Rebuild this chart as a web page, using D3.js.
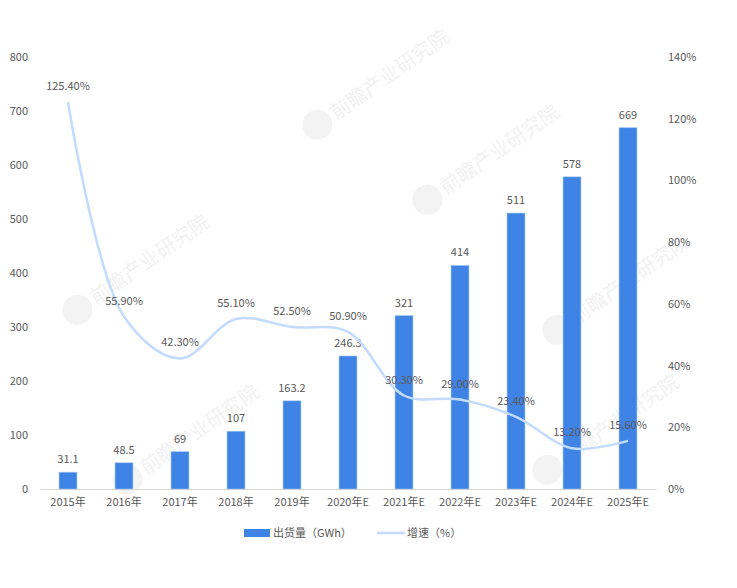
<!DOCTYPE html>
<html>
<head>
<meta charset="utf-8">
<script src="https://cdn.jsdelivr.net/npm/d3@7"></script>
<style>
  body { margin: 0; background: #fff; }
  text { font-family: "Noto Sans CJK SC", "Noto Sans", sans-serif; }
</style>
</head>
<body>
<svg id="chart"></svg>
<script>
const width = 737;
const height = 588;

const years = ["2015年", "2016年", "2017年", "2018年", "2019年", "2020年E", "2021年E", "2022年E", "2023年E", "2024年E", "2025年E"];
const shipments = [31.1, 48.5, 69, 107, 163.2, 246.3, 321, 414, 511, 578, 669];
const growth = [125.4, 55.9, 42.3, 55.1, 52.5, 50.9, 30.3, 29.0, 23.4, 13.2, 15.6];
const leftTicks = [0, 100, 200, 300, 400, 500, 600, 700, 800];
const rightTicks = [0, 20, 40, 60, 80, 100, 120, 140];

const margin = {top: 57, right: 81, bottom: 99, left: 40};
const textColor = "#595959";

const svg = d3.select("#chart")
              .attr("width", width)
              .attr("height", height);

// faint watermarks
const marks = [[360, 95], [470, 170], [120, 280], [600, 300], [170, 450], [590, 440]];
const wm = svg.append("g").attr("fill", "#f2f2f2");
marks.forEach(([x, y]) => {
    const g = wm.append("g").attr("transform", `translate(${x},${y}) rotate(-35)`);
    g.append("circle").attr("cx", -52).attr("cy", 0).attr("r", 15).attr("fill", "#f3f3f3");
    g.append("text").attr("x", -34).attr("y", 7).attr("font-size", 20).text("前瞻产业研究院");
});

const x = d3.scaleBand()
            .domain(years)
            .range([margin.left, width - margin.right])
            .paddingInner(0.68)
            .paddingOuter(0.34);

const y = d3.scaleLinear()
            .domain([0, 800])
            .range([height - margin.bottom, margin.top]);

const y2 = d3.scaleLinear()
             .domain([0, 140])
             .range([height - margin.bottom, margin.top]);

const yAxis = d3.axisLeft(y).tickValues(leftTicks).tickSize(0).tickPadding(12);
const y2Axis = d3.axisRight(y2).tickValues(rightTicks).tickSize(0).tickPadding(12).tickFormat(d => d + "%");
const xAxis = d3.axisBottom(x).tickSize(0).tickPadding(9);

svg.append("g")
   .attr("transform", `translate(${margin.left}, 0)`)
   .call(yAxis)
   .call(g => g.select(".domain").remove());

svg.append("g")
   .attr("transform", `translate(${width - margin.right}, 0)`)
   .call(y2Axis)
   .call(g => g.select(".domain").remove());

svg.append("g")
   .attr("transform", `translate(0, ${height - margin.bottom})`)
   .call(xAxis)
   .call(g => g.select(".domain").attr("stroke", "#d9d9d9"));

svg.selectAll(".tick text")
   .attr("fill", textColor)
   .attr("font-size", 11)
   .style("font-family", "'Noto Sans CJK SC', sans-serif");

svg.selectAll(".bar")
   .data(shipments)
   .enter()
   .append("rect")
   .attr("class", "bar")
   .attr("x", (d, i) => x(years[i]))
   .attr("y", d => y(d))
   .attr("width", x.bandwidth())
   .attr("height", d => y(0) - y(d))
   .attr("fill", "#3f84e5")
   .attr("stroke", "#9cc2f5")
   .attr("stroke-width", 0.6);

svg.selectAll(".bar-label")
   .data(shipments)
   .enter()
   .append("text")
   .attr("class", "bar-label")
   .attr("x", (d, i) => x(years[i]) + x.bandwidth() / 2)
   .attr("y", d => y(d) - 9)
   .attr("text-anchor", "middle")
   .attr("font-size", 11)
   .attr("fill", textColor)
   .text(d => d);

const line = d3.line()
               .x((d, i) => x(years[i]) + x.bandwidth() / 2)
               .y(d => y2(d))
               .curve(d3.curveCatmullRom.alpha(0.5));

svg.append("path")
   .datum(growth)
   .attr("d", line)
   .attr("fill", "none")
   .attr("stroke", "#c2dbff")
   .attr("stroke-width", 2.5);

svg.selectAll(".line-label")
   .data(growth)
   .enter()
   .append("text")
   .attr("class", "line-label")
   .attr("x", (d, i) => x(years[i]) + x.bandwidth() / 2)
   .attr("y", d => y2(d) - 12)
   .attr("text-anchor", "middle")
   .attr("font-size", 11)
   .attr("fill", textColor)
   .text(d => d.toFixed(2) + "%");

// legend
const legend = svg.append("g").attr("transform", "translate(0, 533)");
legend.append("rect")
      .attr("x", 244).attr("y", -4).attr("width", 26).attr("height", 8)
      .attr("fill", "#3f84e5");
legend.append("text")
      .attr("x", 273).attr("y", 4)
      .attr("font-size", 11).attr("fill", textColor)
      .text("出货量（GWh）");
legend.append("line")
      .attr("x1", 377).attr("x2", 405).attr("y1", 0).attr("y2", 0)
      .attr("stroke", "#c2dbff").attr("stroke-width", 2.5);
legend.append("text")
      .attr("x", 407).attr("y", 4)
      .attr("font-size", 11).attr("fill", textColor)
      .text("增速（%）");
</script>
</body>
</html>
